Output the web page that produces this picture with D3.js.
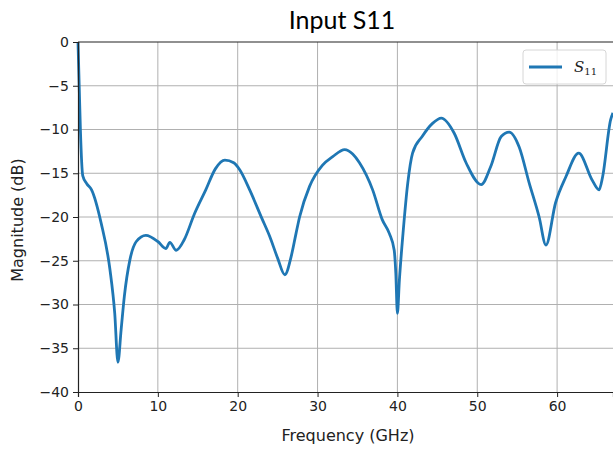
<!DOCTYPE html>
<html>
<head>
<meta charset="utf-8">
<script src="https://cdn.jsdelivr.net/npm/d3@7"></script>
<style>
  body { margin: 0; background: #fff; }
  svg { display: block; }
</style>
</head>
<body>
<svg width="613" height="450"></svg>
<script>
// S11 magnitude
var freq = [0, 0.15, 0.3, 0.6, 1.1, 1.7, 2.9, 4.0, 4.6, 5.0, 5.4, 5.8, 6.5, 7.3, 8.5, 10.0, 11.0, 11.5, 12.3, 13.3, 14.6, 16.0, 17.2, 18.4, 19.5, 20.25, 21.5, 23.0, 24.0, 25.0, 25.9, 26.7, 27.3, 27.75, 29.0, 30.6, 31.9, 33.4, 34.4, 35.25, 36.9, 38.1, 39.0, 39.6, 39.8, 40.0, 40.25, 40.7, 41.3, 41.9, 43.1, 44.4, 45.5, 47.1, 48.6, 50.5, 51.7, 53.0, 54.0, 55.25, 56.5, 57.75, 58.6, 59.8, 61.1, 62.7, 64.4, 65.25, 65.7, 66.7, 67.0];
var s11 = [0, -5, -10, -15.3, -16.2, -16.9, -20.7, -26.0, -31.0, -36.6, -32.9, -29.1, -24.9, -22.8, -22.1, -22.8, -23.6, -22.9, -23.8, -22.6, -19.6, -16.9, -14.5, -13.5, -13.8, -14.6, -16.9, -20.1, -22.2, -24.7, -26.6, -24.5, -21.9, -20.0, -16.5, -14.1, -13.1, -12.3, -12.8, -13.8, -16.9, -20.3, -21.9, -23.8, -26.4, -31.0, -27.2, -21.9, -16.1, -12.7, -10.8, -9.3, -8.7, -10.4, -13.8, -16.3, -14.2, -10.8, -10.3, -12.0, -16.1, -20.0, -23.2, -18.4, -15.4, -12.7, -15.8, -16.9, -15.4, -8.9, -8.1];

var xTicks = [0, 10, 20, 30, 40, 50, 60];
var yTicks = [-40, -35, -30, -25, -20, -15, -10, -5, 0];

function main() {
    var svg = d3.select('svg');
    var mLeft = 78, mTop = 42, mBottom = 392, mRight = 613;

    var x = d3.scaleLinear().domain([0, 67]).range([mLeft, mRight]);
    var y = d3.scaleLinear().domain([-40, 0]).range([mBottom, mTop]);

    // grid
    svg.append('g').selectAll('line')
        .data(xTicks.slice(1))
        .enter().append('line')
        .attr('x1', function(d) { return x(d); }).attr('x2', function(d) { return x(d); })
        .attr('y1', mTop).attr('y2', mBottom)
        .attr('stroke', '#b0b0b0').attr('stroke-width', 1);
    svg.append('g').selectAll('line')
        .data(yTicks.slice(1, -1))
        .enter().append('line')
        .attr('x1', mLeft).attr('x2', mRight)
        .attr('y1', function(d) { return y(d); }).attr('y2', function(d) { return y(d); })
        .attr('stroke', '#b0b0b0').attr('stroke-width', 1);

    // data line
    var line = d3.line()
        .x(function(d, i) { return x(freq[i]); })
        .y(function(d) { return y(d); })
        .curve(d3.curveMonotoneX);
    svg.append('path')
        .datum(s11)
        .attr('d', line)
        .attr('fill', 'none')
        .attr('stroke', '#1f77b4')
        .attr('stroke-width', 2.8)
        .attr('stroke-linejoin', 'round');

    // axes
    var xAxis = svg.append('g')
        .attr('transform', 'translate(0,' + mBottom + ')')
        .call(d3.axisBottom(x).tickValues(xTicks).tickSize(5).tickPadding(4));
    var yAxis = svg.append('g')
        .attr('transform', 'translate(' + mLeft + ',0)')
        .call(d3.axisLeft(y).tickValues(yTicks).tickSize(5).tickPadding(4)
            .tickFormat(function(d) { return d < 0 ? '\u2212' + Math.abs(d) : d; }));
    [xAxis, yAxis].forEach(function(a) {
        a.selectAll('text').attr('font-family', 'DejaVu Sans').attr('font-size', 14).attr('fill', '#222');
        a.selectAll('line').attr('stroke', '#222');
        a.select('.domain').attr('stroke', '#222').attr('stroke-width', 1.2);
    });
    svg.append('line')
        .attr('x1', mLeft).attr('x2', mRight).attr('y1', mTop).attr('y2', mTop)
        .attr('stroke', '#222').attr('stroke-width', 1.2);

    // labels
    svg.append('text')
        .attr('x', 342).attr('y', 29)
        .attr('text-anchor', 'middle')
        .attr('font-family', 'Lato').attr('font-size', 25)
        .text('Input S11');
    svg.append('text')
        .attr('x', 348).attr('y', 441)
        .attr('text-anchor', 'middle')
        .attr('font-family', 'DejaVu Sans').attr('font-size', 16).attr('fill', '#222')
        .text('Frequency (GHz)');
    svg.append('text')
        .attr('transform', 'translate(23,220) rotate(-90)')
        .attr('text-anchor', 'middle')
        .attr('font-family', 'DejaVu Sans').attr('font-size', 16).attr('fill', '#222')
        .text('Magnitude (dB)');

    // legend
    var lg = svg.append('g');
    lg.append('rect')
        .attr('x', 523).attr('y', 50).attr('width', 83).attr('height', 34).attr('rx', 3)
        .attr('fill', '#fff').attr('fill-opacity', 0.8)
        .attr('stroke', '#d6d6d6');
    lg.append('line')
        .attr('x1', 529).attr('x2', 562).attr('y1', 67).attr('y2', 67)
        .attr('stroke', '#1f77b4').attr('stroke-width', 2.8);
    var lt = lg.append('text')
        .attr('x', 574).attr('y', 72)
        .attr('font-family', 'DejaVu Serif').attr('font-size', 15).attr('fill', '#222');
    lt.append('tspan').attr('font-style', 'italic').text('S');
    lt.append('tspan').attr('font-size', 10).attr('dy', 3).text('11');
}

main();
</script>
</body>
</html>
